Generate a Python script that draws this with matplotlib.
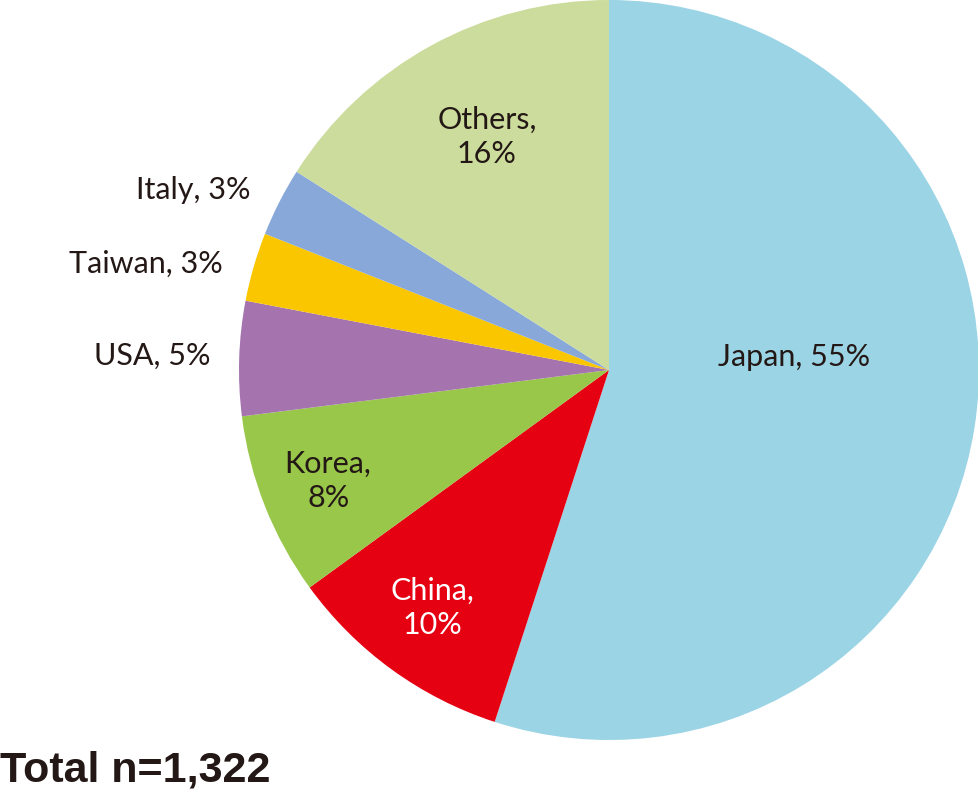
import numpy as np
import matplotlib as mpl
import matplotlib.pyplot as plt

# ── DATA ─────────────────────────────────────────────────────────────────────
COUNTRIES = ["Japan", "China", "Korea", "USA", "Taiwan", "Italy", "Others"]
SHARES = [55, 10, 8, 5, 3, 3, 16]
TOTAL_LABEL = "Total n=1,322"

# ── APPEARANCE ───────────────────────────────────────────────────────────────
COLORS = ["#9AD4E5", "#E50012", "#98C74A", "#A574AF", "#FAC600", "#87A8D9", "#CCDC9D"]
TEXT_COLORS = ["#231815", "white", "#231815", "#231815", "#231815", "#231815", "#231815"]
# label position relative to pie centre, in units of radius
LABEL_POS = [(0.50, 0.035), (-0.476, -0.643), (-0.759, -0.30), (-1.235, 0.038),
             (-1.251, 0.286), (-1.124, 0.486), (-0.33, 0.63)]
TWO_LINE = [False, True, True, False, False, False, True]

mpl.rcParams["font.family"] = ["Lato", "DejaVu Sans"]

W, H = 979, 789
CX, CY, R = 609, H - 370, 370

fig = plt.figure(figsize=(W / 100, H / 100), dpi=100)
ax = fig.add_axes([0, 0, 1, 1])

ax.pie(SHARES, colors=COLORS, startangle=90, counterclock=False,
       center=(CX, CY), radius=R, frame=True,
       wedgeprops=dict(linewidth=0, edgecolor="none"))
ax.set_xlim(0, W)
ax.set_ylim(0, H)
ax.set_aspect("equal")
ax.axis("off")

for name, val, (dx, dy), two, tc in zip(COUNTRIES, SHARES, LABEL_POS, TWO_LINE, TEXT_COLORS):
    sep = ",\n" if two else ", "
    ax.text(CX + dx * R, CY + dy * R, f"{name}{sep}{val}%",
            ha="center", va="center", fontsize=22, color=tc,
            linespacing=1.3)

fig.text(0.0, (H - 781) / H, TOTAL_LABEL, ha="left", va="baseline",
         fontsize=31, fontweight="bold", color="#231815",
         family=["Liberation Sans", "DejaVu Sans"])

fig.savefig("out.png", dpi=100, facecolor="white")
